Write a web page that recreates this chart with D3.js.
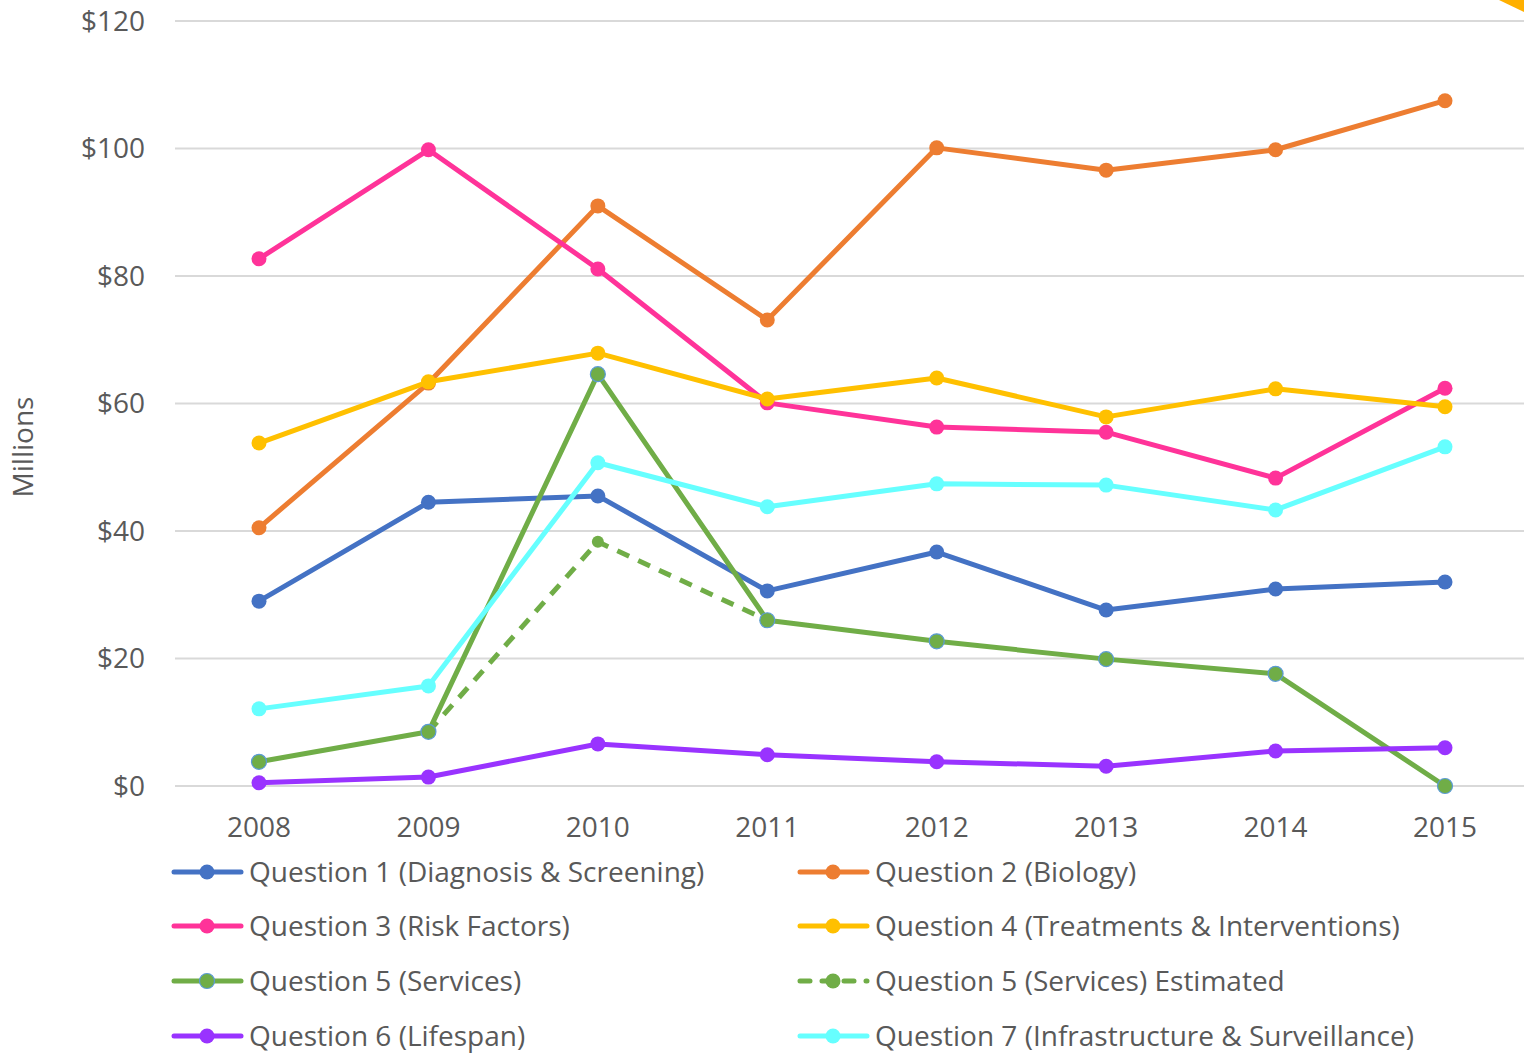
<!DOCTYPE html>
<html>
<head>
<meta charset="utf-8">
<script src="https://cdn.jsdelivr.net/npm/d3@7"></script>
<style>
  body { margin: 0; background: #fff; }
  svg text { font-family: "Open Sans", "Noto Sans", sans-serif; fill: #595959; }
</style>
</head>
<body>
<div id="chart"></div>
<script>
// data (millions of dollars)
const years = [2008, 2009, 2010, 2011, 2012, 2013, 2014, 2015];
const q1 = [29.0, 44.5, 45.5, 30.6, 36.7, 27.6, 30.9, 32.0];
const q2 = [40.5, 63.2, 91.0, 73.1, 100.1, 96.6, 99.8, 107.5];
const q3 = [82.7, 99.8, 81.1, 60.1, 56.3, 55.5, 48.3, 62.4];
const q4 = [53.8, 63.4, 67.9, 60.7, 64.0, 57.9, 62.3, 59.5];
const q5 = [3.8, 8.5, 64.6, 26.0, 22.7, 19.9, 17.6, 0.0];
const q5est = [null, 8.5, 38.3, 26.0, null, null, null, null];
const q6 = [0.5, 1.4, 6.6, 4.9, 3.8, 3.1, 5.5, 6.0];
const q7 = [12.1, 15.7, 50.7, 43.8, 47.4, 47.2, 43.3, 53.2];
const yTicks = [0, 20, 40, 60, 80, 100, 120];

const series = [
  { name: "Question 1 (Diagnosis & Screening)", values: q1, color: "#4472C4" },
  { name: "Question 2 (Biology)", values: q2, color: "#ED7D31" },
  { name: "Question 3 (Risk Factors)", values: q3, color: "#FF3399" },
  { name: "Question 4 (Treatments & Interventions)", values: q4, color: "#FFC000" },
  { name: "Question 5 (Services)", values: q5, color: "#70AD47", outline: "#5B9BD5" },
  { name: "Question 5 (Services) Estimated", values: q5est, color: "#70AD47", dashed: true },
  { name: "Question 6 (Lifespan)", values: q6, color: "#9933FF" },
  { name: "Question 7 (Infrastructure & Surveillance)", values: q7, color: "#66FFFF" }
];

const W = 1524, H = 1053;
const svg = d3.select("#chart").append("svg")
  .attr("width", W).attr("height", H);

const x = d3.scalePoint().domain(years).range([259, 1445]);
const y = d3.scaleLinear().domain([0, 120]).range([786, 21]);

// little decoration in the top right corner
svg.append("path")
  .attr("d", "M1499,0 L1524,12 L1524,0 Z")
  .attr("fill", "#FFB000");

// gridlines
svg.append("g").selectAll("line")
  .data(yTicks)
  .join("line")
  .attr("x1", 175).attr("x2", W)
  .attr("y1", d => y(d)).attr("y2", d => y(d))
  .attr("stroke", "#d9d9d9").attr("stroke-width", 2);

// y axis labels
svg.append("g").selectAll("text")
  .data(yTicks)
  .join("text")
  .attr("x", 145).attr("y", d => y(d))
  .attr("dy", "0.35em")
  .attr("text-anchor", "end")
  .style("font-size", "28px")
  .text(d => "$" + d);

// x axis labels
svg.append("g").selectAll("text")
  .data(years)
  .join("text")
  .attr("x", d => x(d)).attr("y", 837)
  .attr("text-anchor", "middle")
  .style("font-size", "28px")
  .text(d => d);

svg.append("text")
  .attr("transform", "translate(33,447) rotate(-90)")
  .attr("text-anchor", "middle")
  .style("font-size", "28px")
  .text("Millions");

const line = d3.line()
  .defined(d => d != null)
  .x((d, i) => x(years[i]))
  .y(d => y(d));

// draw in order so that later series sit on top
const drawOrder = [5, 0, 1, 2, 3, 4, 6, 7];
const plot = svg.append("g");
drawOrder.forEach(k => {
  const s = series[k];
  const g = plot.append("g");
  g.append("path")
    .datum(s.values)
    .attr("fill", "none")
    .attr("stroke", s.color)
    .attr("stroke-width", 5)
    .attr("stroke-linejoin", "round")
    .attr("stroke-dasharray", s.dashed ? "13,10" : null)
    .attr("d", line);
  const pts = s.values.map((v, i) => ({ v, i })).filter(d => d.v != null);
  g.selectAll("circle")
    .data(pts)
    .join("circle")
    .attr("cx", d => x(years[d.i]))
    .attr("cy", d => y(d.v))
    .attr("r", s.dashed ? 6 : 7.5)
    .attr("fill", s.color)
    .attr("stroke", s.outline || "none")
    .attr("stroke-width", s.outline ? 1.2 : 0);
});

// legend, two columns
const legend = svg.append("g");
const colX = [172, 798];
const rowY = [872, 926, 981, 1036];
series.forEach((s, i) => {
  const lx = colX[i % 2], ly = rowY[Math.floor(i / 2)];
  const item = legend.append("g").attr("transform", `translate(${lx},${ly})`);
  item.append("line")
    .attr("x1", 2).attr("x2", 69)
    .attr("stroke", s.color)
    .attr("stroke-width", 5)
    .attr("stroke-linecap", "round")
    .attr("stroke-dasharray", s.dashed ? "10,12" : null);
  item.append("circle")
    .attr("cx", 35).attr("r", 7.5)
    .attr("fill", s.color)
    .attr("stroke", s.outline || "none")
    .attr("stroke-width", s.outline ? 1.2 : 0);
  item.append("text")
    .attr("x", 77).attr("dy", "0.35em")
    .style("font-size", "28px")
    .text(s.name);
});
</script>
</body>
</html>
